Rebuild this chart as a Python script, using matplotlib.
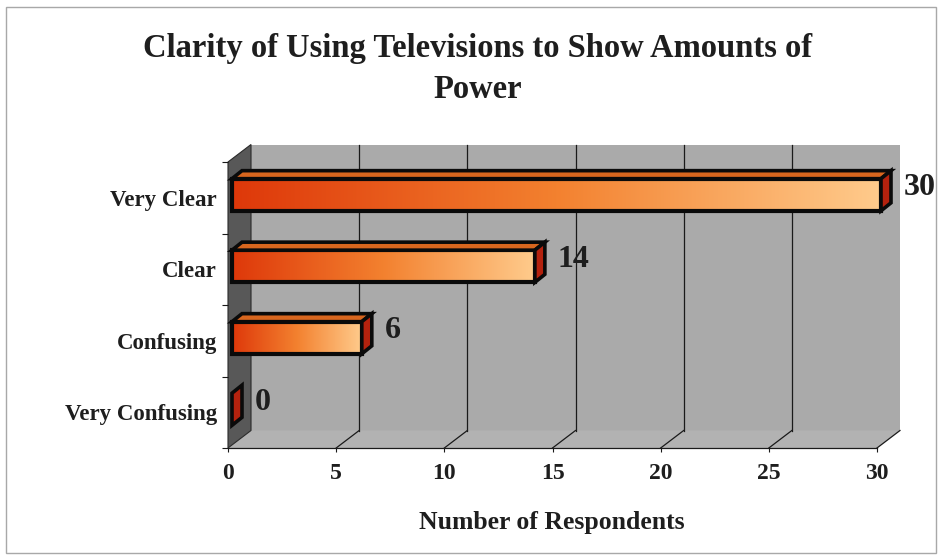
import numpy as np
import matplotlib
matplotlib.use("Agg")
import matplotlib.pyplot as plt
from matplotlib.patches import Polygon, Rectangle
from matplotlib.colors import LinearSegmentedColormap

# survey answers, bottom row first
categories = ["Very Confusing", "Confusing", "Clear", "Very Clear"]
respondents = [0, 6, 14, 30]
x_ticks = [0, 5, 10, 15, 20, 25, 30]

TITLE = "Clarity of Using Televisions to Show Amounts of\nPower"
X_LABEL = "Number of Respondents"

DPI = 100
W, H = 938, 556
SERIF = "Liberation Serif"
TEXT = "#1e1e1e"

fig = plt.figure(figsize=(W / DPI, H / DPI), dpi=DPI)
fig.patch.set_facecolor("white")
ax = fig.add_axes([228 / W, 108 / H, 649 / W, 286 / H])
ax.set_xlim(0, 30)
ax.set_ylim(-0.5, 3.5)
ax.patch.set_visible(False)
for s in ax.spines.values():
    s.set_visible(False)


def px(dx, dy):
    """pixel offset -> data offset (linear axes, so this is constant)"""
    inv = ax.transData.inverted()
    p0 = inv.transform((0, 0))
    p1 = inv.transform((dx, dy))
    return p1 - p0


wx, wy = px(23, 17.5)     # depth of the walls
fx, fy = px(4, 3)         # bar front face sits a little behind the front plane
bx, by = px(10, 8)        # bar depth
x0, x1 = ax.get_xlim()
y0, y1 = ax.get_ylim()

# back wall, floor, left wall
ax.add_patch(Rectangle((x0 + wx, y0 + wy), x1 - x0, y1 - y0,
                       fc="#aaaaaa", ec="none", zorder=0, clip_on=False))
ax.add_patch(Polygon([(x0, y0), (x1, y0), (x1 + wx, y0 + wy), (x0 + wx, y0 + wy)],
                     fc="#b2b2b2", ec="none", zorder=0, clip_on=False))
ax.add_patch(Polygon([(x0, y0), (x0, y1), (x0 + wx, y1 + wy), (x0 + wx, y0 + wy)],
                     fc="#585858", ec="#2a2a2a", lw=0.8, zorder=1, clip_on=False))

# gridlines on the wall and the floor
for t in x_ticks[1:]:
    if t < x1:
        ax.plot([t + wx, t + wx], [y0 + wy, y1 + wy], color="#1a1a1a", lw=0.9,
                zorder=1, clip_on=False)
    ax.plot([t, t + wx], [y0, y0 + wy], color="#1a1a1a", lw=0.9, zorder=1, clip_on=False)
ax.plot([x0, x1], [y0, y0], color="#1a1a1a", lw=0.9, zorder=2, clip_on=False)

cmap = LinearSegmentedColormap.from_list(
    "tv", ["#de380a", "#f3812f", "#ffcb8c"])
grad = np.linspace(0, 1, 256).reshape(1, -1)
bh = 0.45

for i, v in enumerate(respondents):
    lo, hi = i - bh / 2 + fy, i + bh / 2 + fy
    left, right = x0 + fx, v + fx
    if v > 0:
        ax.imshow(grad, cmap=cmap, aspect="auto", extent=(left, right, lo, hi),
                  zorder=3, clip_on=False, interpolation="bicubic")
        ax.add_patch(Rectangle((left, lo), v, hi - lo, fc="none", ec="#0a0a0a",
                               lw=3.0, zorder=4, clip_on=False))
        ax.add_patch(Polygon([(left, hi), (right, hi), (right + bx, hi + by), (left + bx, hi + by)],
                             fc="#d8661e", ec="#0a0a0a", lw=2.6, joinstyle="miter",
                             zorder=4, clip_on=False))
    ax.add_patch(Polygon([(right, lo), (right, hi), (right + bx, hi + by), (right + bx, lo + by)],
                         fc="#b4220e", ec="#0a0a0a", lw=2.6, joinstyle="miter",
                         zorder=5, clip_on=False))
    ax.text(right + bx + px(13, 0)[0], i + px(0, 10)[1], f"{v}", ha="left", va="center",
            fontsize=23, fontweight="bold", family=SERIF, color=TEXT, zorder=6)

ax.set_xlim(x0, x1)
ax.set_ylim(y0, y1)

ax.set_xticks(x_ticks)
ax.set_xticklabels([str(t) for t in x_ticks], fontsize=17, fontweight="bold",
                   family=SERIF, color=TEXT)
ax.tick_params(axis="x", length=3, width=0.8, color="#1a1a1a", pad=8)
ax.set_yticks(range(len(categories)))
ax.set_yticklabels(categories, fontsize=16.5, fontweight="bold", family=SERIF, color=TEXT)
ax.set_yticks(np.arange(-0.5, len(categories)), minor=True)
ax.tick_params(axis="y", which="major", length=0, pad=8)
ax.tick_params(axis="y", which="minor", length=4, width=0.8, color="#1a1a1a")

fig.text(552 / W, 1 - 522 / H, X_LABEL, ha="center", va="center", fontsize=18.5,
         fontweight="bold", family=SERIF, color=TEXT)
fig.text(478 / W, 1 - 69 / H, TITLE, ha="center", va="center", fontsize=23.5,
         fontweight="bold", family=SERIF, color=TEXT, linespacing=1.45)

fig.patches.append(Rectangle((6 / W, 3 / H), 930 / W, 546 / H, transform=fig.transFigure,
                             fill=False, ec="#a8a8a8", lw=1.0))

fig.savefig("out.png", dpi=DPI)
